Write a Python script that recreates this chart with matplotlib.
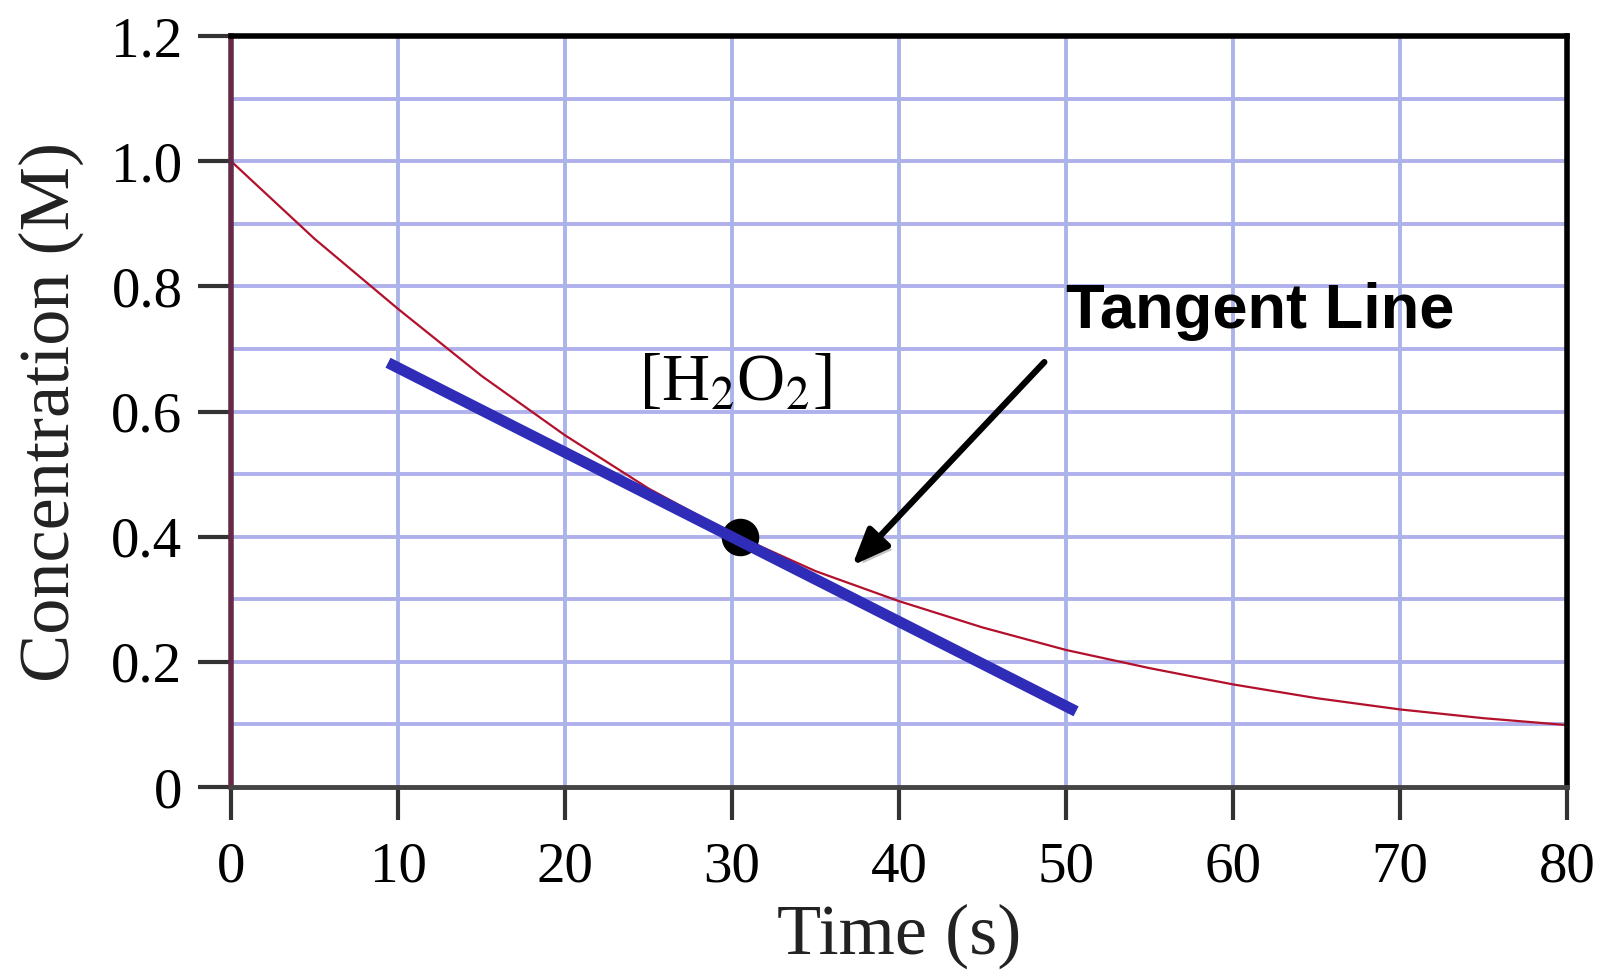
import matplotlib
matplotlib.use("Agg")
import matplotlib.pyplot as plt
import matplotlib.patheffects as pe
import numpy as np

# concentration of H2O2
time_s = [0, 5, 10, 15, 20, 25, 30, 35, 40, 45, 50, 55, 60, 65, 70, 75, 80]
conc_m = [1.0, 0.876, 0.764, 0.657, 0.562, 0.477, 0.405, 0.345, 0.297, 0.255,
          0.219, 0.19, 0.164, 0.142, 0.124, 0.11, 0.099]

# tangent line end points and the point of tangency
tangent_t = [9.4, 50.6]
tangent_c = [0.678, 0.121]
point_t = [30.5]
point_c = [0.40]

x_ticks = list(range(0, 81, 10))
y_ticks = [0, 0.2, 0.4, 0.6, 0.8, 1.0, 1.2]
y_tick_labels = ["0", "0.2", "0.4", "0.6", "0.8", "1.0", "1.2"]
y_grid = [0.1, 0.2, 0.3, 0.4, 0.5, 0.6, 0.7, 0.8, 0.9, 1.0, 1.1]
x_grid = [10, 20, 30, 40, 50, 60, 70]

SERIF = ["Liberation Serif", "DejaVu Serif"]
plt.rcParams["mathtext.fontset"] = "stix"

fig = plt.figure(figsize=(16.01, 9.76), dpi=100)
ax = fig.add_axes([0.1443, 0.1936, 0.8345, 0.7695])
ax.set_xlim(0, 80)
ax.set_ylim(0, 1.2)

for g in y_grid:
    ax.axhline(g, color="#b0b0ec", lw=2.8, zorder=0)
for g in x_grid:
    ax.axvline(g, color="#aab4ea", lw=2.8, zorder=0)

ax.plot(time_s, conc_m, color="#b3102c", lw=1.6, zorder=3)
ax.plot(tangent_t, tangent_c, color="#2f2db8", lw=8, solid_capstyle="butt", zorder=4)
ax.plot(point_t, point_c, "o", color="black", ms=26, zorder=3.5)

ax.text(24.4, 0.618, r"[H$_2$O$_2$]", fontsize=48, family=SERIF,
        ha="left", va="baseline", zorder=5)
ax.text(50.0, 0.733, "Tangent Line", fontsize=45.5, fontweight="bold",
        family=["Liberation Sans", "DejaVu Sans"], ha="left", va="baseline", zorder=5)

arrow = ax.annotate("", xy=(37.2, 0.354), xytext=(48.7, 0.679),
                    arrowprops=dict(arrowstyle="-|>,head_length=1.1,head_width=0.45",
                                    color="black", lw=4.5, shrinkA=0, shrinkB=0,
                                    mutation_scale=20), zorder=6)
arrow.arrow_patch.set_path_effects([
    pe.SimplePatchShadow(offset=(3, -3), shadow_rgbFace="#888888", alpha=0.5),
    pe.Normal(),
])

ax.set_xticks(x_ticks)
ax.set_xticklabels([str(t) for t in x_ticks])
ax.set_yticks(y_ticks)
ax.set_yticklabels(y_tick_labels)
ax.tick_params(axis="x", direction="out", length=24, width=3, color="#333333",
               pad=15, labelsize=41)
ax.tick_params(axis="y", direction="out", length=24, width=3, color="#333333",
               pad=11, labelsize=41)
for lab in ax.get_xticklabels() + ax.get_yticklabels():
    lab.set_family(SERIF)

ax.spines["left"].set_color("#652a4a")
ax.spines["left"].set_linewidth(4)
ax.spines["bottom"].set_color("#444444")
ax.spines["bottom"].set_linewidth(3.5)
ax.spines["top"].set_color("black")
ax.spines["top"].set_linewidth(4)
ax.spines["right"].set_color("black")
ax.spines["right"].set_linewidth(4)
for sp in ax.spines.values():
    sp.set_zorder(7)

ax.set_xlabel("Time (s)", fontsize=52, family=SERIF, color="#222222")
ax.set_ylabel("Concentration (M)", fontsize=52, family=SERIF, color="#222222")
ax.xaxis.set_label_coords(0.5, -0.155)
ax.yaxis.set_label_coords(-0.110, 0.5)

fig.savefig("out.png", dpi=100)
